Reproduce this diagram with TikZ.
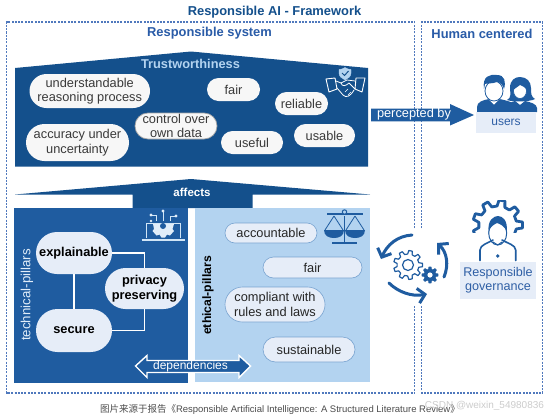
\documentclass[tikz,border=0pt]{standalone}
\usepackage{fontspec}
\setmainfont{Liberation Sans}
\newfontfamily\cjkfont{Noto Sans CJK SC}
\usetikzlibrary{arrows.meta,calc}
\definecolor{navy}{HTML}{14508C}
\definecolor{techblue}{HTML}{1F5CA0}
\definecolor{ethblue}{HTML}{B3D3F0}
\definecolor{pale}{HTML}{E6EDF8}
\definecolor{pillw}{HTML}{F7F7F7}
\definecolor{dashc}{HTML}{5079BD}
\definecolor{headc}{HTML}{2A5CA8}
\definecolor{labelc}{HTML}{2F5FA5}
\definecolor{inktext}{HTML}{3A3A3A}
\newcommand{\fsz}[1]{\fontsize{#1}{\the\dimexpr #1pt*114/100\relax}\selectfont}
\newcommand{\gearicon}[6]{%
 \begin{scope}[shift={(#1,#2)}]
  \pgfmathsetmacro{\gs}{360/#5}
  \draw[#6] ({-.3*\gs}:#4) \foreach \k in {1,...,#5} {
    -- ({(\k-1)*\gs-.3*\gs}:#4) -- ({(\k-1)*\gs-.17*\gs}:#3) -- ({(\k-1)*\gs+.17*\gs}:#3) -- ({(\k-1)*\gs+.3*\gs}:#4)
  } -- cycle;
 \end{scope}}
\tikzset{
 x=1pt,y=-1pt,
 every node/.style={inner sep=0pt,outer sep=0pt,font=\fsz{12.8},align=center},
 boxdash/.style={draw=dashc,line width=1.2pt,dash pattern=on 2pt off 1.3pt},
 headtext/.style={font=\bfseries\fsz{12.9},text=headc},
 trustpill/.style={fill=pillw,text=inktext},
 ethpill/.style={fill=pale,draw=ethblue!60!techblue,line width=.6pt,text=black!85},
 techpill/.style={fill=pale,font=\bfseries\fsz{12.8},text=black},
 link/.style={draw=white,line width=1.4pt},
 iconw/.style={draw=white,line width=1pt,line join=round,line cap=round},
 iconb/.style={draw=techblue,line width=1pt,line join=round,line cap=round},
 turn/.style={draw=techblue,line width=3pt,line cap=round,-{Straight Barb[length=7pt,width=15pt,line width=3pt]}},
}
% pill node: name, x1,y1,x2,y2, style, text
\newcommand{\pillnode}[7][]{%
 \pgfmathsetmacro{\pw}{#4-#2}\pgfmathsetmacro{\ph}{#5-#3}
 \pgfmathsetmacro{\pr}{\ph/2}
 \node[#6,rounded corners=\pr pt,minimum width=\pw pt,minimum height=\ph pt,#1] at ({(#2+#4)/2},{(#3+#5)/2}) {#7};}
\begin{document}
\begin{tikzpicture}
\useasboundingbox (0,0) rectangle (548,418);
\fill[white] (0,0) rectangle (548,418);
% frames
\coordinate (sysTL) at (6.5,22); \coordinate (sysTR) at (414.7,22);
\coordinate (sysBL) at (6.5,393); \coordinate (sysBR) at (414.7,393);
\coordinate (humTL) at (421.7,22); \coordinate (humTR) at (542.7,22);
\coordinate (humBL) at (421.7,393); \coordinate (humBR) at (542.7,393);
\draw[boxdash] (414.7,228) -- (sysTR) -- (sysTL) -- (sysBL) -- (sysBR) -- (414.7,305);
\draw[boxdash] (421.7,228) -- (humTL) -- (humTR) -- (humBR) -- (humBL) -- (421.7,305);
\node[font=\bfseries\fsz{12.9},text=navy] (title) at (274.5,12.5) {Responsible AI - Framework};
\node[headtext] (syshead) at (209.5,33.5) {Responsible system};
\node[headtext] (humhead) at (482,33.5) {Human centered};
% trustworthiness house
\fill[navy] (15,68) -- (191,51.5) -- (368,68) -- (368,166.5) -- (15,166.5) -- cycle;
\node[font=\bfseries\fsz{12.8},text=ethblue] (trust) at (190.5,63.5) {Trustworthiness};
\pillnode[name=understand]{29.5}{74}{150}{108}{trustpill}{understandable\\reasoning process}
\pillnode[name=fairA]{207}{78}{260}{101}{trustpill}{fair}
\pillnode[name=control,draw=gray!70,line width=.7pt]{135}{113}{217}{139}{trustpill}{control over\\own data}
\pillnode[name=accuracy]{26}{124}{129}{161}{trustpill}{accuracy under\\uncertainty}
\pillnode[name=useful]{221}{131}{283}{154}{trustpill}{useful}
\pillnode[name=reliable]{275}{92}{328}{115}{trustpill}{reliable}
\pillnode[name=usable]{294}{124}{355}{147}{trustpill}{usable}
% handshake icon
\draw[iconw,line width=.9pt] (326,79) -- (335,78) -- (337,89) -- (329,92) -- cycle;
\draw[iconw,line width=.9pt] (365,78) -- (356,78) -- (355,89) -- (362,92) -- cycle;
\draw[iconw,line width=.8pt] (336,81) -- (341,83) -- (347,80) -- (355,81);
\draw[iconw,line width=.8pt] (337,88) -- (343,95) .. controls (346,98) and (350,97) .. (354,90);
\draw[iconw,line width=.8pt] (341,83) .. controls (342,87) and (346,86) .. (349,83) -- (355,89);
\draw[iconw,line width=.6pt] (345,92) -- (348,89) (348,95) -- (351,92);
\filldraw[draw=ethblue,fill=ethblue] (345,67.5) .. controls (347,69) and (349,69.5) .. (351,69.5) -- (351,73) .. controls (351,76.5) and (348,78.5) .. (345,80) .. controls (342,78.5) and (339,76.5) .. (339,73) -- (339,69.5) .. controls (341,69.5) and (343,69) .. (345,67.5) -- cycle;
\draw[draw=navy,line width=1pt] (342,73) -- (344.5,75.5) -- (348.5,71);
% affects
\fill[navy] (15,194.5) -- (191,179) -- (370,194.5) -- (252.5,194.5) -- (252.5,208) -- (132.5,208) -- (132.5,194.5) -- cycle;
\node[font=\bfseries\fsz{11.5},text=white] (affects) at (192,192) {affects};
% pillars
\fill[techblue] (14,208) rectangle (188,383);
\fill[ethblue] (195,208) rectangle (370,382);
\node[rotate=90,text=ethblue!40!white,font=\fsz{13.3}] (techlabel) at (27,295) {technical-pillars};
\node[rotate=90,text=black,font=\bfseries\fsz{12.2}] (ethlabel) at (208,295.5) {ethical-pillars};
\pillnode[name=explain]{36}{232}{112}{274}{techpill}{explainable}
\pillnode[name=privacy]{105}{268}{184}{309}{techpill}{privacy\\preserving}
\pillnode[name=secure]{36}{309}{112}{352}{techpill}{secure}
\draw[link] (explain) -- (secure);
\draw[link] (explain.east) -| (privacy.north);
\draw[link] (secure.east) -| (privacy.south);
\pillnode[name=account]{225}{223}{317}{243}{ethpill}{accountable}
\pillnode[name=fairB]{263}{257}{362}{278}{ethpill}{fair}
\pillnode[name=comply]{225}{287}{325}{322}{ethpill}{compliant with\\rules and laws}
\pillnode[name=sustain]{263}{337}{355}{362}{ethpill}{sustainable}
% dependencies arrow
\filldraw[draw=white,fill=techblue,line width=1.4pt] (135.5,366) -- (147,355.5) -- (147,360.5) -- (239,360.5) -- (239,355.5) -- (250.5,366) -- (239,377.5) -- (239,372.5) -- (147,372.5) -- (147,377.5) -- cycle;
\node[text=white,font=\fsz{12}] (depend) at (190.5,366) {dependencies};
% scales icon
\draw[draw=techblue,line width=1.6pt] (344.5,216) -- (344.5,242);
\draw[draw=techblue,line width=2pt] (332,242.5) -- (357,242.5);
\draw[draw=techblue,line width=1.6pt] (327,214) -- (363,214);
\draw[draw=techblue,fill=ethblue,line width=1pt] (344.5,212) circle (2.2);
\draw[draw=techblue,line width=.8pt] (334,216) -- (325,230) (334,216) -- (343,230) (355,216) -- (346,230) (355,216) -- (364,230);
\fill[techblue] (324,230) -- (344,230) .. controls (344,236) and (339,238) .. (334,238) .. controls (329,238) and (324,236) .. (324,230) -- cycle;
\fill[techblue] (345,230) -- (365,230) .. controls (365,236) and (360,238) .. (355,238) .. controls (350,238) and (345,236) .. (345,230) -- cycle;
% laptop icon
\draw[draw=ethblue!60!white,line width=1pt] (146.5,238) -- (146.5,223) -- (180,223) -- (180,238);
\draw[draw=ethblue!60!white,line width=1.3pt] (141.5,240) -- (185,240);
\fill[ethblue!40!white] (153,224) -- (174,224) -- (172.5,229) -- (174,231) -- (170,235.5) -- (167,234.5) -- (165,237.5) -- (161.5,237.5) -- (159.5,234.5) -- (156.5,235.5) -- (152.5,231) -- (154,229) -- cycle;
\fill[techblue] (163,226) circle (3);
\draw[draw=ethblue!60!white,line width=1pt] (163,211) -- (163,221) (156,221) -- (156,215) -- (151,215) (170,221) -- (170,216) -- (176,216);
\fill[ethblue!40!white] (163,211) circle (1.6) (151,215) circle (1.6) (176,216) circle (1.6) (151,221) circle (1.3);
% percepted arrow
\fill[techblue] (371,108.7) -- (450,108.7) -- (450,104) -- (474,115) -- (450,125.5) -- (450,121.3) -- (371,121.3) -- cycle;
\node[text=white,font=\fsz{12.8},anchor=west] (percept) at (377,114.5) {percepted by};
% users icon
\fill[techblue] (507,100) .. controls (512,98) and (510,92) .. (510,88) .. controls (510,80) and (515,77) .. (520,77) .. controls (527,77) and (531,82) .. (531,88) .. controls (531,93) and (531,97) .. (535,99) .. controls (530,102) and (512,102) .. (507,100) -- cycle;
\filldraw[draw=techblue,fill=white,line width=.6pt] (520,91) ellipse (6.5 and 7.5);
\fill[techblue] (513,90) .. controls (512,82) and (517,81) .. (520,81) .. controls (524,81) and (528,84) .. (527,90) .. controls (525,87) and (522,86) .. (520,85) .. controls (518,87) and (515,88) .. (513,90) -- cycle;
\fill[techblue] (507,112) -- (507,107) .. controls (507,104) and (511,102) .. (515,101) -- (520,105) -- (525,101) .. controls (530,102) and (537,104) .. (537,108) -- (537,112) -- cycle;
\fill[techblue] (477,112) -- (477,107) .. controls (477,102) and (483,100) .. (489,99) -- (494,104) -- (499,99) .. controls (505,100) and (515,102) .. (515,107) -- (515,112) -- cycle;
\draw[white,line width=1pt] (489,97) -- (489,99) -- (494,104) -- (499,99) -- (499,97);
\filldraw[draw=techblue,fill=white,line width=.8pt] (494,91) ellipse (9 and 10);
\fill[techblue] (484,89) .. controls (482,76) and (490,74) .. (497,75) .. controls (505,75) and (506,82) .. (504,89) .. controls (503,85) and (500,82) .. (497,82) .. controls (492,84) and (487,83) .. (485,84) -- cycle;
\node[fill=pale,text=labelc,minimum width=60pt,minimum height=21pt,font=\fsz{12}] (users) at (506,122.5) {users};
% governance icon
\begin{scope}
\clip (470,200) rectangle (530,232);
\gearicon{497.7}{225}{25}{19}{9}{draw=techblue,line width=2.8pt,line join=round}
\end{scope}
\filldraw[draw=techblue,fill=white,line width=1pt] (497.7,233) ellipse (9 and 12);
\fill[techblue] (488.7,232) .. controls (487,220) and (494,216) .. (498,216) .. controls (503,216) and (508,221) .. (506.7,232) .. controls (505,226) and (500,224) .. (497,223) .. controls (493,225) and (490,227) .. (488.7,232) -- cycle;
\draw[iconb,line width=1.6pt] (480,260.5) -- (480,250) .. controls (480,245) and (488,243) .. (493,240);
\draw[iconb,line width=1.6pt] (515.7,260.5) -- (515.7,250) .. controls (515.7,245) and (507,243) .. (502,240);
\draw[iconb,line width=1pt] (493,242) -- (497.7,245) -- (502,242);
\fill[techblue] (497.7,256) circle (1.8);
\node[fill=pale,text=labelc,minimum width=76pt,minimum height=37pt,font=\fsz{12.6}] (gov) at (498,280.5) {Responsible\\governance};
% cycle icon
\gearicon{408}{265}{14.5}{11}{9}{draw=techblue,fill=white,line width=1.2pt,line join=round}
\draw[draw=techblue,line width=1.2pt] (408,265) circle (5.5);
\gearicon{430}{275}{8}{5.8}{8}{draw=techblue,fill=techblue,line width=.8pt,line join=round}
\fill[white] (430,275) circle (2.6);
\draw[turn] (412,235) .. controls (397,236) and (387,245) .. (381,259);
\draw[turn] (389,283) .. controls (398,292) and (412,297) .. (427,294);
\draw[turn] (444,277) .. controls (449,265) and (447,252) .. (437,243);
% footer
\node[font=\fsz{9.5},text=black!70,anchor=west] (foot) at (100,409) {{\cjkfont 图片来源于报告《}Responsible Artificial Intelligence: A Structured Literature Review{\cjkfont 》}};
\node[font=\fsz{10},text=black!20,anchor=east] (mark) at (544,406) {CSDN @weixin\_54980836};
\end{tikzpicture}
\end{document}
